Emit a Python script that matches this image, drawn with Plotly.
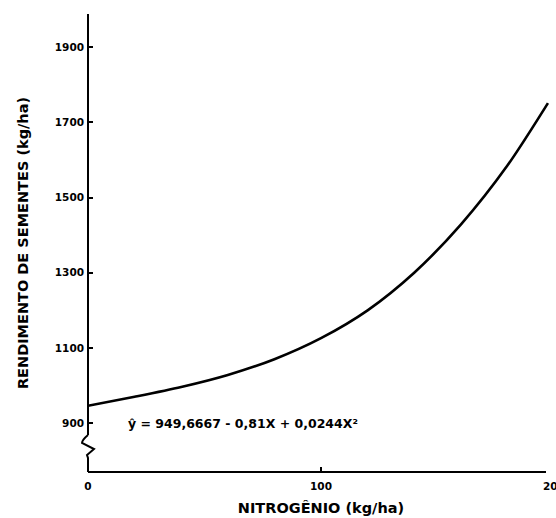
import plotly.graph_objects as go

# Data (fitted regression curve)
nitrogen = [0, 20, 40, 60, 80, 100, 120, 140, 160, 180, 197.4]
yield_kg = [946, 970, 996, 1028, 1070, 1126, 1200, 1300, 1428, 1585, 1751]

x_ticks = [0, 100, 200]
y_ticks = [900, 1100, 1300, 1500, 1700, 1900]
y_tick_text = ["900", "1100", "1300", "1500", "1700", "1900"]

equation = "ŷ = 949,6667 - 0,81X + 0,0244X²"
x_title = "NITROGÊNIO (kg/ha)"
y_title = "RENDIMENTO DE SEMENTES (kg/ha)"

Y_MIN, Y_MAX = 770, 1988
FONT = "DejaVu Sans"

fig = go.Figure()
fig.add_trace(go.Scatter(
    x=nitrogen, y=yield_kg, mode="lines",
    line=dict(color="black", width=2.6, shape="spline", smoothing=0.8),
    hoverinfo="skip", showlegend=False,
))

fig.update_layout(
    width=556, height=518,
    margin=dict(l=88, r=2, t=14, b=46),
    paper_bgcolor="white", plot_bgcolor="white",
    font=dict(family=FONT, color="black"),
    showlegend=False,
)

fig.update_xaxes(
    range=[0, 200], tickvals=x_ticks, automargin=False,
    showgrid=False, zeroline=False, showline=False,
    ticks="inside", ticklen=5, tickwidth=2, tickcolor="black",
    tickfont=dict(size=10.5, family=FONT, weight="bold"),
    ticklabeloverflow="allow", ticklabelstandoff=6,
    title=dict(text=x_title, font=dict(size=14.5, family=FONT, weight="bold"), standoff=12),
)

fig.update_yaxes(
    range=[Y_MIN, Y_MAX], tickvals=y_ticks, ticktext=y_tick_text,
    showgrid=False, zeroline=False, showline=False,
    ticks="inside", ticklen=5, tickwidth=2, tickcolor="black",
    tickfont=dict(size=10.5, family=FONT, weight="bold"),
    ticklabelstandoff=3,
    title=dict(text=y_title, font=dict(size=14.5, family=FONT, weight="bold"), standoff=22),
)

# pixel helpers for the decorative axis lines
def yv(py):
    top, bottom = 14, 472
    return Y_MAX - (py - top) / (bottom - top) * (Y_MAX - Y_MIN)

pw = 556 - 88 - 2
def xp(dx):
    return dx / pw

# x axis line (ends a little before the 200 mark, as in the original)
fig.add_shape(type="line", xref="paper", yref="paper", x0=0, x1=xp(458),
              y0=0, y1=0, line=dict(color="black", width=2))

# y axis line with a break squiggle near the bottom
fig.add_shape(type="line", xref="paper", yref="y", x0=0, x1=0,
              y0=yv(435), y1=Y_MAX, line=dict(color="black", width=2))
path = (f"M {xp(0)},{yv(435)} Q {xp(-6)},{yv(440)} {xp(-6)},{yv(443)} "
        f"L {xp(6)},{yv(449)} L {xp(-1)},{yv(455)} L {xp(0)},{yv(458)} L {xp(0)},{Y_MIN}")
fig.add_shape(type="path", xref="paper", yref="y", path=path,
              line=dict(color="black", width=2))

fig.add_annotation(
    x=16.5, y=yv(423), xref="x", yref="y", text=equation, showarrow=False,
    xanchor="left", yanchor="middle",
    font=dict(size=12.5, family=FONT, weight="bold"),
)

fig.write_html("out.html")
